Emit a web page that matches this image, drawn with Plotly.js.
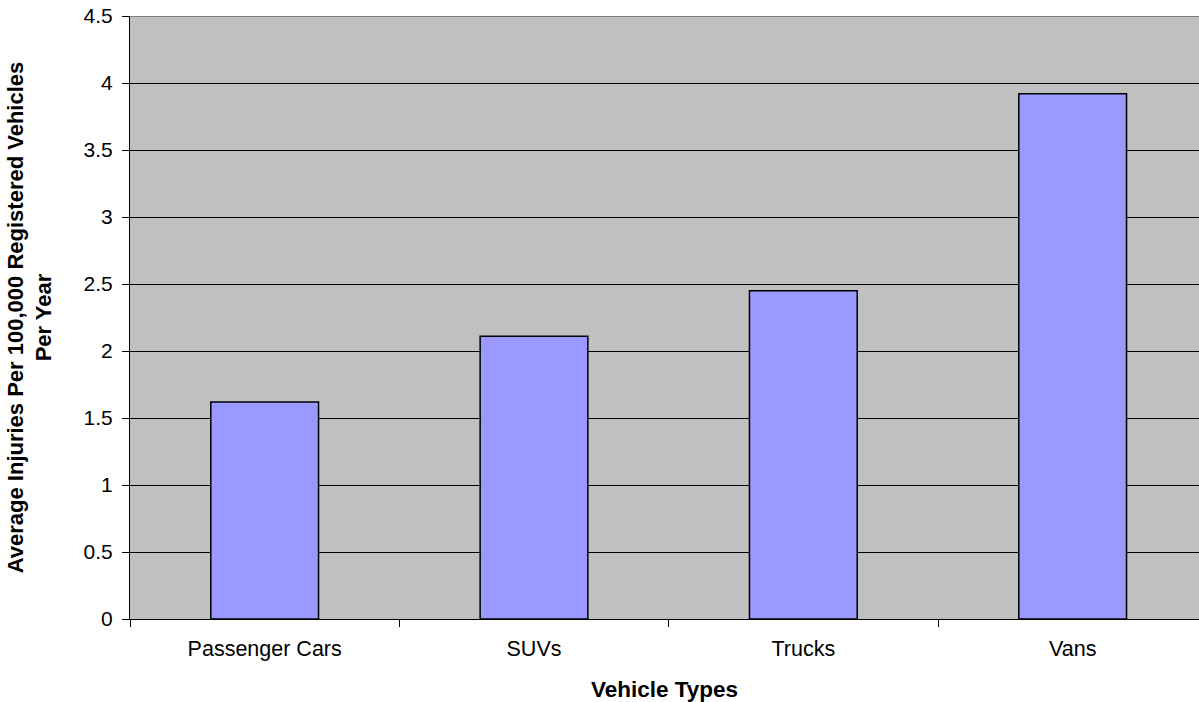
<!DOCTYPE html>
<html>
<head>
<meta charset="utf-8">
<script src="https://cdn.plot.ly/plotly-3.0.1.min.js"></script>
<style>html,body{margin:0;padding:0;background:#fff;overflow:hidden}</style>
</head>
<body>
<div id="chart" style="width:1199px;height:702px"></div>
<script>
const categories = ["Passenger Cars", "SUVs", "Trucks", "Vans"];
const injuries = [1.62, 2.11, 2.45, 3.92];
const yTickVals = [0, 0.5, 1, 1.5, 2, 2.5, 3, 3.5, 4, 4.5];
const yTickText = ["0", "0.5", "1", "1.5", "2", "2.5", "3", "3.5", "4", "4.5"];

const FONT = "Arial, 'Liberation Sans', sans-serif";

const trace = {
  type: "bar",
  x: categories,
  y: injuries,
  width: 0.4,
  marker: {color: "#9999FF", line: {color: "#000000", width: 1.5}},
  hoverinfo: "x+y"
};

const layout = {
  width: 1199,
  height: 702,
  margin: {l: 130, r: 0, t: 16, b: 83},
  paper_bgcolor: "#FFFFFF",
  plot_bgcolor: "#C0C0C0",
  showlegend: false,
  font: {family: FONT, color: "#000000", size: 21},
  xaxis: {
    type: "category",
    range: [-0.5, 3.469],
    showgrid: false,
    showline: true,
    linecolor: "#000000",
    linewidth: 1,
    ticks: "outside",
    tickson: "boundaries",
    ticklen: 7,
    tickcolor: "#000000",
    ticklabelstandoff: 10,
    tickfont: {family: FONT, size: 21.5, color: "#000000"},
    title: {text: "<b>Vehicle Types</b>", font: {family: FONT, size: 22.5, color: "#000000"}, standoff: 26},
    automargin: false,
    fixedrange: true
  },
  yaxis: {
    range: [0, 4.5],
    tickvals: yTickVals,
    ticktext: yTickText,
    showgrid: true,
    gridcolor: "#000000",
    gridwidth: 1,
    zeroline: false,
    showline: true,
    linecolor: "#000000",
    linewidth: 1,
    ticks: "outside",
    ticklen: 7,
    tickcolor: "#000000",
    ticklabelstandoff: 5,
    tickfont: {family: FONT, size: 21, color: "#000000"},
    title: {text: "<b>Average Injuries Per 100,000 Registered Vehicles<br>Per Year</b>", font: {family: FONT, size: 22, color: "#000000"}, standoff: 25},
    automargin: false,
    fixedrange: true
  },
  shapes: [
    {type: "line", xref: "paper", yref: "y", x0: 0, x1: 1, y0: 4.5, y1: 4.5, line: {color: "#808080", width: 2}, layer: "above"}
  ]
};

Plotly.newPlot("chart", [trace], layout, {displayModeBar: false, staticPlot: true});
</script>
</body>
</html>
